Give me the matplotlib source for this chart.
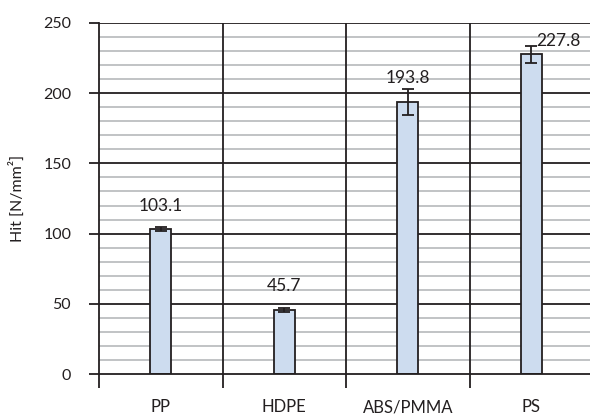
import numpy as np
import matplotlib.pyplot as plt

categories = ['PP', 'HDPE', 'ABS/PMMA', 'PS']
values = [103.1, 45.7, 193.8, 227.8]
errors = [1.5, 1.5, 9.0, 6.0]
labels = ['103.1', '45.7', '193.8', '227.8']

plt.rcParams['font.family'] = ['Lato', 'DejaVu Sans']

fig = plt.figure(figsize=(5.9, 4.19), dpi=100)
ax = fig.add_axes([99 / 590, 1 - 374 / 419, 494 / 590, 351 / 419])

x = np.arange(len(categories))

# grid: minor grey every 10, major black every 50
for y in np.arange(10, 250, 10):
    if y % 50:
        ax.axhline(y, color='#bcbec0', lw=1.3, zorder=0)
for y in np.arange(50, 251, 50):
    ax.axhline(y, color='#231f20', lw=1.3, zorder=0.5)
for xb in [0.5, 1.5, 2.5]:
    ax.axvline(xb, color='#231f20', lw=1.3, zorder=0.5)

ax.bar(x, values, width=0.17, color='#cddcef', edgecolor='#231f20', lw=1.3, zorder=2)
ax.errorbar(x, values, yerr=errors, fmt='none', ecolor='#231f20', elinewidth=1.3,
            capsize=4, capthick=1.3, zorder=3)

for i, (v, e, lab) in enumerate(zip(values, errors, labels)):
    if i == 3:
        ax.text(i + 0.04, v + e - 2, lab, ha='left', va='bottom', fontsize=12.5, color='#231f20')
    else:
        ax.text(i, v + 11, lab, ha='center', va='bottom', fontsize=12.5, color='#231f20')

ax.set_xlim(-0.5, 3.5)
ax.set_ylim(0, 250)

for s in ['top', 'right']:
    ax.spines[s].set_visible(False)
ax.spines['left'].set_color('#231f20')
ax.spines['left'].set_linewidth(1.3)
ax.spines['bottom'].set_color('#231f20')
ax.spines['bottom'].set_linewidth(1.3)

ax.set_yticks(np.arange(0, 251, 50))
ax.tick_params(axis='y', length=7, width=1.3, color='#231f20', pad=13,
               labelsize=11.5, labelcolor='#231f20')

ax.set_xticks([-0.5, 0.5, 1.5, 2.5, 3.5])
ax.set_xticklabels([])
ax.tick_params(axis='x', which='major', length=10, width=1.3, color='#231f20')
ax.set_xticks(x, minor=True)
ax.set_xticklabels(categories, minor=True)
ax.tick_params(axis='x', which='minor', length=0, pad=18, labelsize=12, labelcolor='#231f20')

ax.set_ylabel('Hit [N/mm²]', fontsize=11.5, color='#231f20')
ax.yaxis.set_label_coords(-0.15, 0.5)

fig.savefig('out.png', dpi=100)
